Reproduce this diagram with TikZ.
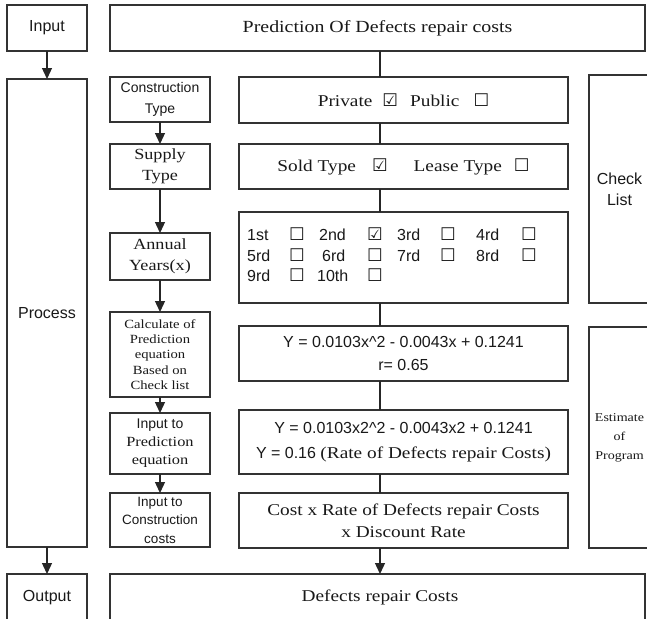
\documentclass[tikz,border=0pt]{standalone}
\usepackage{fontspec}
\setmainfont{Liberation Serif}[FakeStretch=1.17]
\newfontfamily\sa{Liberation Sans}
\newfontfamily\sym{DejaVu Sans}
\usetikzlibrary{arrows.meta}
\newcommand\cb{{\sym\fontsize{17.5}{12}\selectfont ☐}}
\newcommand\cbk{{\sym\fontsize{17.5}{12}\selectfont ☑}}
\tikzset{
  box/.style={draw=black!80, line width=1.3pt, inner sep=0pt, outer sep=0pt, align=center, text=black!90},
  conn/.style={draw=black!85, line width=1.3pt},
  arr/.style={conn, -{Triangle[length=11pt,width=10pt]}},
  sansL/.style={font={\sa\fontsize{16}{19}\selectfont}},
}
\begin{document}
\begin{tikzpicture}[x=1pt,y=-1pt]
\useasboundingbox (0,0) rectangle (647,618);
\fill[white] (0,0) rectangle (647,618);
\clip (0,0) rectangle (647,618);
% left stage column
\node[box, sansL, minimum width=80pt, minimum height=46pt] (in) at (47,28) {Input};
\node[box, sansL, minimum width=80pt, minimum height=468pt] (proc) at (47,313) {Process};
\node[box, sansL, minimum width=80pt, minimum height=47pt] (out) at (47,597.5) {Output};
% top and bottom wide boxes
\node[box, minimum width=535pt, minimum height=46pt, font={\fontsize{17}{20}\selectfont}] (top) at (377.5,28) {Prediction Of Defects repair costs};
\node[box, minimum width=535pt, minimum height=47pt, font={\fontsize{16.5}{20}\selectfont}] (def) at (377.5,597.5) {\hspace{5pt}Defects repair Costs};
% step column
\node[box, minimum width=100pt, minimum height=45pt, font={\sa\fontsize{14}{21}\selectfont}] (ct) at (160,99.5) {Construction\\Type};
\node[box, minimum width=100pt, minimum height=45pt, font={\fontsize{15.5}{20.5}\selectfont}] (sup) at (160,166.5) {Supply\\Type};
\node[box, minimum width=100pt, minimum height=47pt, font={\fontsize{15.5}{21}\selectfont}] (ann) at (160,256.5) {Annual\\Years(x)};
\node[box, minimum width=100pt, minimum height=85pt, font={\fontsize{12.5}{15.25}\selectfont}] (calc) at (160,354.5) {Calculate of\\Prediction\\equation\\Based on\\Check list};
\node[box, minimum width=100pt, minimum height=61pt, font={\rmfamily\fontsize{14}{18}\selectfont}] (ipred) at (160,443.5) {{\sa Input to}\\Prediction\\equation};
\node[box, minimum width=100pt, minimum height=54pt, font={\sa\fontsize{13.5}{18.5}\selectfont}] (icost) at (160,520) {Input to\\Construction\\costs};
% content column
\node[box, minimum width=329pt, minimum height=46pt, font={\fontsize{16.5}{20}\selectfont}] (priv) at (403.5,100) {Private\hspace{10pt}\cbk\hspace{12pt}Public\hspace{14pt}\cb};
\node[box, minimum width=329pt, minimum height=45pt, font={\fontsize{16.5}{20}\selectfont}] (sold) at (403.5,166.5) {Sold Type\hspace{16pt}\cbk\hspace{26pt}Lease Type\hspace{12pt}\cb};
\node[box, minimum width=329pt, minimum height=91pt] (years) at (403.5,257.5) {};
\node[anchor=west, inner sep=0pt, text=black!90, font={\sa\fontsize{16}{20.5}\selectfont}] (grid) at (247,257) {%
\begin{tabular}{@{}p{72pt}@{}p{78pt}@{}p{79pt}@{}l@{}}
\makebox[42pt][l]{1st}\cb & \makebox[48pt][l]{2nd}\cbk & \makebox[43pt][l]{3rd}\cb & \makebox[45pt][l]{4rd}\cb\\
\makebox[42pt][l]{5rd}\cb & \makebox[48pt][l]{\hspace{3pt}6rd}\cb & \makebox[43pt][l]{7rd}\cb & \makebox[45pt][l]{8rd}\cb\\
\makebox[42pt][l]{9rd}\cb & \makebox[48pt][l]{\hspace{-2pt}10th}\cb & & \\
\end{tabular}};
\node[box, minimum width=329pt, minimum height=55pt, font={\sa\fontsize{16}{23}\selectfont}] (eq1) at (403.5,353.5) {Y = 0.0103x\textasciicircum 2 - 0.0043x + 0.1241\\r= 0.65};
\node[box, minimum width=329pt, minimum height=64pt, font={\sa\fontsize{16}{25}\selectfont}] (eq2) at (403.5,442) {Y = 0.0103x2\textasciicircum 2 - 0.0043x2 + 0.1241\\Y = 0.16 {\rmfamily\fontsize{16.5}{25}\selectfont (Rate of Defects repair Costs)}};
\node[box, minimum width=329pt, minimum height=55pt, font={\fontsize{16.5}{22}\selectfont}] (eq3) at (403.5,520.5) {Cost x Rate of Defects repair Costs\\x Discount Rate};
% right side boxes
\node[box, minimum width=61pt, minimum height=228pt, font={\sa\fontsize{16}{21}\selectfont}] (chk) at (619.5,189) {Check\\List};
\node[box, minimum width=61pt, minimum height=221pt, font={\fontsize{12}{19}\selectfont}] (est) at (619.5,437.5) {Estimate\\of\\Program};
% connectors
\coordinate (ml) at (380,0);
\draw[arr] (in) -- (proc);
\draw[arr] (proc) -- (out);
\draw[arr] (ct) -- (sup);
\draw[arr] (sup) -- (ann);
\draw[arr] (ann) -- (calc);
\draw[arr] (calc) -- (ipred);
\draw[arr] (ipred) -- (icost);
\draw[conn] (top.south -| ml) -- (priv.north -| ml);
\draw[conn] (priv.south -| ml) -- (sold.north -| ml);
\draw[conn] (sold.south -| ml) -- (years.north -| ml);
\draw[conn] (years.south -| ml) -- (eq1.north -| ml);
\draw[conn] (eq1.south -| ml) -- (eq2.north -| ml);
\draw[conn] (eq2.south -| ml) -- (eq3.north -| ml);
\draw[arr] (eq3.south -| ml) -- (def.north -| ml);
\end{tikzpicture}
\end{document}
